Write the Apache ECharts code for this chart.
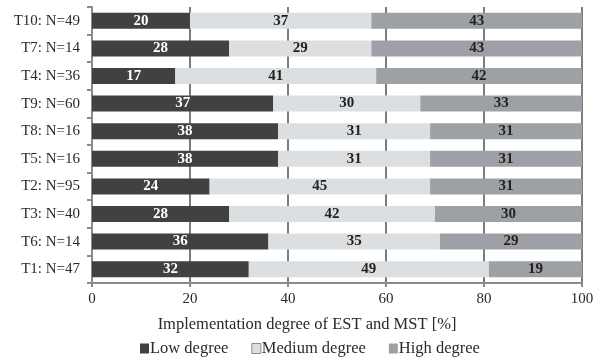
<!DOCTYPE html>
<html>
<head>
<meta charset="utf-8">
<script src="https://cdn.jsdelivr.net/npm/echarts@6/dist/echarts.min.js"></script>
<style>
  html, body { margin: 0; padding: 0; background: #fff; }
  #chart { width: 604px; height: 360px; }
</style>
</head>
<body>
<div id="chart"></div>
<script>
// Groups, listed top to bottom
const categories = ['T10: N=49', 'T7: N=14', 'T4: N=36', 'T9: N=60', 'T8: N=16',
                    'T5: N=16', 'T2: N=95', 'T3: N=40', 'T6: N=14', 'T1: N=47'];
// Share of each implementation degree [%]
const lowDegree    = [20, 28, 17, 37, 38, 38, 24, 28, 36, 32];
const mediumDegree = [37, 29, 41, 30, 31, 31, 45, 42, 35, 49];
const highDegree   = [43, 43, 42, 33, 31, 31, 31, 30, 29, 19];
const xTicks = [0, 20, 40, 60, 80, 100];

const serif = '"Liberation Serif", "DejaVu Serif", serif';

function barSeries(name, values, color, labelColor) {
  return {
    name: name,
    type: 'bar',
    stack: 'total',
    barWidth: 16,
    data: values,
    itemStyle: { color: color },
    label: {
      show: true,
      position: 'inside',
      color: labelColor,
      fontFamily: serif,
      fontWeight: 'bold',
      fontSize: 15
    },
    emphasis: { disabled: true }
  };
}

const chart = echarts.init(document.getElementById('chart'));
chart.setOption({
  animation: false,
  grid: { left: 92, right: 22, top: 7, bottom: 77, containLabel: false },
  xAxis: {
    type: 'value',
    min: xTicks[0],
    max: xTicks[xTicks.length - 1],
    interval: 20,
    name: 'Implementation degree of EST and MST [%]',
    nameLocation: 'middle',
    nameGap: 33,
    nameTextStyle: { fontFamily: serif, fontSize: 16.5, color: '#2a2a2a', padding: [0, 60, 0, 0] },
    axisLine: { show: true, lineStyle: { color: '#8a8a8a', width: 2 } },
    axisTick: { show: true, length: 4, lineStyle: { color: '#8a8a8a', width: 2 } },
    axisLabel: { fontFamily: serif, fontSize: 15, color: '#2a2a2a', margin: 9 },
    splitLine: { show: true, lineStyle: { color: '#7c7c7c', width: 2 } }
  },
  yAxis: {
    type: 'category',
    data: categories,
    inverse: true,
    axisLine: { show: true, lineStyle: { color: '#8a8a8a', width: 2 } },
    axisTick: { show: true, length: 5, lineStyle: { color: '#8a8a8a', width: 2 } },
    axisLabel: { fontFamily: serif, fontSize: 15, color: '#2a2a2a', margin: 12 }
  },
  legend: {
    bottom: 3,
    left: 140,
    padding: 0,
    icon: 'rect',
    itemWidth: 9,
    itemHeight: 10,
    itemGap: 23,
    textStyle: { fontFamily: serif, fontSize: 16.5, color: '#2a2a2a', padding: [0, 0, 0, -4] },
    data: [
      { name: 'Low degree' },
      { name: 'Medium degree', itemStyle: { borderColor: '#8a8a8a', borderWidth: 1 } },
      { name: 'High degree' }
    ]
  },
  series: [
    barSeries('Low degree', lowDegree, '#414141', '#ffffff'),
    barSeries('Medium degree', mediumDegree, '#dcdfe1', '#222222'),
    barSeries('High degree', highDegree, '#9da1a5', '#222222')
  ]
});
</script>
</body>
</html>
